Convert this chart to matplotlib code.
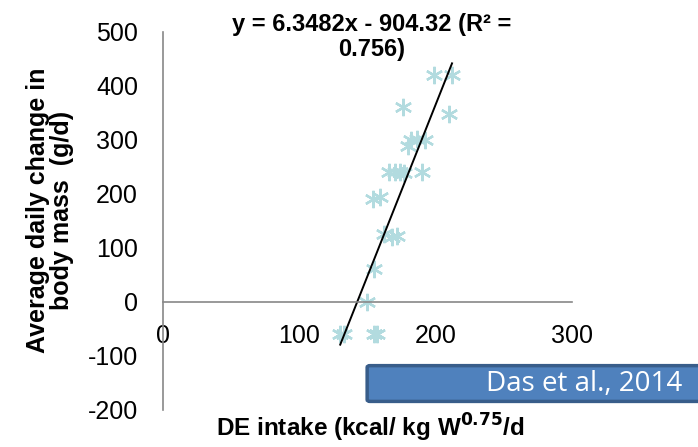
import matplotlib
matplotlib.use("Agg")
import matplotlib.pyplot as plt
from matplotlib.patches import FancyBboxPatch
import numpy as np

# DE intake vs average daily change in body mass
de_intake = [130, 133, 155, 157, 150, 155, 154, 159, 162, 168, 172,
             166, 170, 174, 177, 190, 180, 182, 186, 192, 176, 210, 199, 212]
mass_change = [-60, -60, -60, -60, 0, 60, 190, 195, 125, 120, 122,
               240, 240, 240, 238, 240, 288, 300, 302, 300, 360, 348, 420, 420]

slope = 6.3482
intercept = -904.32
r2 = 0.756

xticks = [0, 100, 200, 300]
yticks = [-200, -100, 0, 100, 200, 300, 400, 500]

plt.rcParams['font.family'] = ['Liberation Sans', 'DejaVu Sans']
plt.rcParams['axes.unicode_minus'] = False

fig = plt.figure(figsize=(6.98, 4.47), dpi=100)
ax = fig.add_axes([0.2335, 0.0828, 0.586, 0.8462])

ax.plot(de_intake, mass_change, linestyle='none', marker=(6, 2, 0),
        markersize=12.5, markeredgewidth=1.7, color='#B2DBDF')

# trendline over the data range
xfit = np.array([min(de_intake), max(de_intake)])
ax.plot(xfit, slope * xfit + intercept, color='black', linewidth=1.4)

ax.set_xlim(0, 300)
ax.set_ylim(-200, 500)
ax.set_xticks(xticks)
ax.set_yticks(yticks)
ax.tick_params(length=0, labelsize=18)
ax.tick_params(axis='x', pad=16)
ax.tick_params(axis='y', pad=18)

for s in ['top', 'right']:
    ax.spines[s].set_visible(False)
ax.spines['bottom'].set_position(('data', 0))
for s in ['bottom', 'left']:
    ax.spines[s].set_color('#888888')
    ax.spines[s].set_linewidth(1.2)

fig.text(0.532, 0.918, 'y = 6.3482x - 904.32 (R² =\n%.3f)' % r2, fontsize=17,
         fontweight='bold', ha='center', va='center', linespacing=1.12)

fig.text(0.072, 0.53, 'Average daily change in\nbody mass  (g/d)', fontsize=18,
         fontweight='bold', rotation=90, ha='center', va='center',
         linespacing=1.0)
fig.text(0.53, 0.042, 'DE intake (kcal/ kg W$^{\\mathbf{0.75}}$/d', fontsize=17.5,
         fontweight='bold', ha='center', va='center')

box = FancyBboxPatch((0.526, 0.102), 0.5, 0.080, transform=fig.transFigure,
                     boxstyle='round,pad=0,rounding_size=0.004',
                     facecolor='#4F81BD', edgecolor='#385D8A', linewidth=2.5,
                     clip_on=False)
fig.patches.append(box)
fig.text(0.977, 0.141, 'Das et al., 2014', color='white', fontsize=20,
         family='Open Sans', ha='right', va='center')

fig.savefig('out.png', dpi=100)
